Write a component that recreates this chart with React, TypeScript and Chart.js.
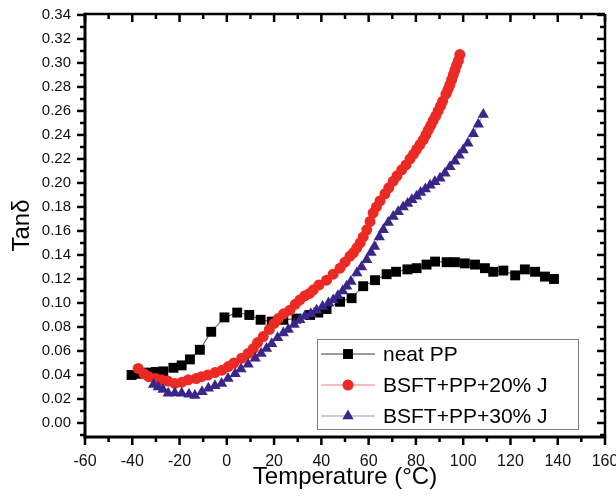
import React, { useEffect, useRef } from 'react';
import { Chart, registerables } from 'chart.js';
import { drawPoint } from 'chart.js/helpers';

Chart.register(...registerables);

// ---------- data ----------
const seriesLabels = ['neat PP', 'BSFT+PP+20% J', 'BSFT+PP+30% J'];

const neatX = [-40.3, -36.8, -33.2, -30, -26.9, -22.6, -19.1, -15.6, -11.4, -6.6, -1, 4.4, 9.5, 14.3, 19, 23.9, 29.5, 35.2, 38.7, 42.2, 47.9, 52.8, 57.7, 62.7, 67.6, 71.6, 76.4, 80.3, 84.5, 88.1, 93, 96.5, 100.7, 105, 109.2, 112.7, 117, 122, 126.1, 130.4, 134.6, 138.4];
const neatY = [0.040, 0.041, 0.042, 0.0425, 0.043, 0.046, 0.048, 0.053, 0.061, 0.076, 0.088, 0.092, 0.090, 0.086, 0.0845, 0.086, 0.087, 0.090, 0.092, 0.095, 0.101, 0.104, 0.114, 0.119, 0.124, 0.126, 0.128, 0.129, 0.132, 0.1345, 0.134, 0.134, 0.133, 0.132, 0.129, 0.126, 0.127, 0.123, 0.128, 0.126, 0.122, 0.120];

const j20X = [-37.5, -35, -33, -30, -27.6, -25, -22, -19, -16.3, -13, -10.7, -8, -5, -2, 0.6, 3, 6.3, 9, 11.2, 13, 15.4, 18, 20, 21.8, 24, 26.7, 29, 30.9, 33, 35, 36.6, 39, 42.2, 45, 47.9, 50, 52.1, 53.6, 55, 56.4, 57.7, 59.2, 60.6, 61.9, 63.3, 64.8, 66.9, 68.5, 70.4, 72, 74, 75.8, 77.5, 79, 80.3, 81.7, 83.1, 84.2, 85.2, 86.3, 87.3, 88.4, 89.4, 90.4, 91.3, 92.7, 93.6, 94.4, 95.1, 95.8, 96.5, 97.2, 98, 98.6];
const j20Y = [0.0455, 0.041, 0.0386, 0.037, 0.036, 0.035, 0.033, 0.034, 0.036, 0.037, 0.0386, 0.040, 0.042, 0.044, 0.047, 0.050, 0.054, 0.058, 0.062, 0.067, 0.072, 0.078, 0.083, 0.087, 0.091, 0.094, 0.099, 0.1025, 0.106, 0.108, 0.111, 0.115, 0.119, 0.124, 0.129, 0.134, 0.139, 0.142, 0.146, 0.150, 0.155, 0.161, 0.168, 0.175, 0.180, 0.185, 0.191, 0.196, 0.2015, 0.206, 0.211, 0.215, 0.220, 0.224, 0.228, 0.232, 0.236, 0.240, 0.244, 0.248, 0.252, 0.256, 0.260, 0.264, 0.268, 0.274, 0.278, 0.282, 0.286, 0.290, 0.294, 0.298, 0.302, 0.307];

const j30X = [-31, -29, -27, -24.8, -22, -19.1, -16, -13.5, -10.5, -7.8, -5, -2.2, 0.5, 3.5, 6, 9, 12, 14.5, 16.8, 19, 21.5, 23.9, 26, 28.5, 30.9, 33, 35.5, 38, 40.5, 43, 45, 47, 49, 50.7, 52.5, 55, 57, 59.2, 61, 62.5, 64.5, 66.2, 68.3, 70.4, 72.5, 74.6, 76.5, 78.3, 80.3, 82, 84, 86, 88, 90.2, 92.3, 94.4, 96.5, 98.3, 100, 102, 104.3, 106.4, 108.5];
const j30Y = [0.032, 0.030, 0.028, 0.0247, 0.025, 0.0247, 0.024, 0.023, 0.026, 0.029, 0.031, 0.033, 0.037, 0.041, 0.045, 0.049, 0.054, 0.058, 0.062, 0.066, 0.071, 0.075, 0.078, 0.082, 0.086, 0.089, 0.091, 0.094, 0.097, 0.100, 0.1025, 0.106, 0.110, 0.114, 0.118, 0.125, 0.130, 0.136, 0.142, 0.147, 0.155, 0.161, 0.167, 0.172, 0.176, 0.180, 0.183, 0.186, 0.189, 0.192, 0.195, 0.198, 0.201, 0.204, 0.208, 0.2136, 0.218, 0.223, 0.2275, 0.233, 0.241, 0.249, 0.257];

const xTicks = [-60, -40, -20, 0, 20, 40, 60, 80, 100, 120, 140, 160];
const yTicks = [0, 0.02, 0.04, 0.06, 0.08, 0.10, 0.12, 0.14, 0.16, 0.18, 0.20, 0.22, 0.24, 0.26, 0.28, 0.30, 0.32, 0.34];

const xTitle = 'Temperature (°C)';
const yTitle = 'Tanδ';

// ---------- styling ----------
const FONT = '"Liberation Sans", Arial, Helvetica, sans-serif';
const styles = [
  { line: '#3a3a3a', fill: '#000000', pointStyle: 'rect', radius: 7 },
  { line: '#f07a7a', fill: '#ec2a24', pointStyle: 'circle', radius: 5.5 },
  { line: '#9a90cc', fill: '#3a2688', pointStyle: 'triangle', radius: 6.5 },
];

const toPts = (xs: number[], ys: number[]) => xs.map((x, i) => ({ x, y: ys[i] }));

const framePlugin = {
  id: 'frameTicksLegend',
  afterDraw(chart: any) {
    const { ctx, chartArea: a, scales } = chart;
    const xs = scales.x;
    const ys = scales.y;
    ctx.save();
    ctx.strokeStyle = '#000';
    ctx.lineCap = 'butt';

    const line = (x1: number, y1: number, x2: number, y2: number, w: number) => {
      ctx.lineWidth = w;
      ctx.beginPath();
      ctx.moveTo(x1, y1);
      ctx.lineTo(x2, y2);
      ctx.stroke();
    };

    // x ticks
    const xStep = xTicks[1] - xTicks[0];
    xTicks.forEach((v) => {
      const p = xs.getPixelForValue(v);
      line(p, a.bottom, p, a.bottom + 8, 2.5);
      line(p, a.top, p, a.top + 8, 2.5);
    });
    xTicks.slice(0, -1).forEach((v) => {
      const p = xs.getPixelForValue(v + xStep / 2);
      line(p, a.bottom, p, a.bottom + 5, 2.5);
      line(p, a.top, p, a.top + 5, 2.5);
    });
    // y ticks
    const yStep = yTicks[1] - yTicks[0];
    yTicks.forEach((v) => {
      const p = ys.getPixelForValue(v);
      line(a.left - 8, p, a.left, p, 2.5);
      line(a.right - 8, p, a.right, p, 2.5);
    });
    [yTicks[0] - yStep / 2, ...yTicks.slice(0, -1).map((v) => v + yStep / 2)].forEach((v) => {
      if (v < ys.min) return;
      const p = ys.getPixelForValue(v);
      line(a.left - 5, p, a.left, p, 2.5);
      line(a.right - 5, p, a.right, p, 2.5);
    });

    // frame
    line(a.left, a.top, a.right, a.top, 2.5);
    line(a.right, a.top, a.right, a.bottom, 2.5);
    line(a.left, a.bottom + 1.5, a.left, a.top - 1.2, 3);
    line(a.left - 1.5, a.bottom, a.right + 1.2, a.bottom, 3);

    // legend
    const bx = a.right - 288;
    const by = a.bottom - 98;
    const bw = 261;
    const bh = 90;
    ctx.fillStyle = '#ffffff';
    ctx.fillRect(bx, by, bw, bh);
    ctx.strokeStyle = '#808080';
    ctx.lineWidth = 1;
    ctx.strokeRect(bx + 0.5, by + 0.5, bw, bh);
    ctx.font = `21px ${FONT}`;
    ctx.textBaseline = 'middle';
    ctx.textAlign = 'left';
    chart.data.datasets.forEach((ds: any, i: number) => {
      const st = styles[i];
      const ry = by + 15 + i * 31;
      ctx.strokeStyle = st.line;
      ctx.lineWidth = 1;
      ctx.beginPath();
      ctx.moveTo(bx + 4, ry);
      ctx.lineTo(bx + 58, ry);
      ctx.stroke();
      ctx.fillStyle = st.fill;
      ctx.strokeStyle = st.fill;
      drawPoint(ctx, { pointStyle: st.pointStyle, radius: st.radius, rotation: 0, borderWidth: 0 }, bx + 31, ry);
      ctx.fillStyle = '#000';
      ctx.fillText(ds.label, bx + 66, ry + 1);
    });
    ctx.restore();
  },
};

export default function App() {
  const ref = useRef<HTMLCanvasElement | null>(null);
  useEffect(() => {
    if (!ref.current) return;
    const series = [toPts(neatX, neatY), toPts(j20X, j20Y), toPts(j30X, j30Y)];
    const chart = new Chart(ref.current, {
      type: 'line',
      data: {
        datasets: series.map((d, i) => ({
          label: seriesLabels[i],
          data: d,
          order: 2 - i,
          borderColor: styles[i].line,
          borderWidth: 1,
          pointStyle: styles[i].pointStyle as any,
          pointRadius: styles[i].radius,
          pointBackgroundColor: styles[i].fill,
          pointBorderColor: styles[i].fill,
          pointBorderWidth: 0,
          tension: 0,
          fill: false,
        })),
      },
      options: {
        animation: false,
        responsive: false,
        devicePixelRatio: 1,
        layout: { padding: { left: 0, right: 11, top: 14, bottom: 0 } },
        plugins: { legend: { display: false }, tooltip: { enabled: false } },
        scales: {
          x: {
            type: 'linear',
            min: -60,
            max: 160,
            afterFit: (s: any) => { s.height = 60; s.paddingLeft = 0; s.paddingRight = 0; },
            afterBuildTicks: (s: any) => { s.ticks = xTicks.map((v) => ({ value: v })); },
            grid: { display: true, drawOnChartArea: false, drawTicks: false },
            border: { display: false },
            ticks: { color: '#111', font: { family: FONT, size: 16 }, padding: 15, maxRotation: 0, autoSkip: false, callback: (v: any) => String(v) },
            title: { display: true, text: xTitle, color: '#000', font: { family: FONT, size: 24 }, padding: { top: 0, bottom: 5 } },
          },
          y: {
            type: 'linear',
            min: -0.01167,
            max: 0.3408,
            afterFit: (s: any) => { s.width = 85; s.paddingTop = 0; s.paddingBottom = 0; },
            afterBuildTicks: (s: any) => { s.ticks = yTicks.map((v) => ({ value: v })); },
            grid: { display: true, drawOnChartArea: false, drawTicks: false },
            border: { display: false },
            ticks: { color: '#111', font: { family: FONT, size: 15 }, padding: 14, autoSkip: false, callback: (v: any) => Number(v).toFixed(2) },
            title: { display: true, text: yTitle, color: '#000', font: { family: FONT, size: 24 }, padding: { top: 8, bottom: 0 } },
          },
        },
      },
      plugins: [framePlugin],
    });
    return () => chart.destroy();
  }, []);
  return (
    <div style={{ position: 'absolute', left: 0, top: 0, width: 616, height: 497, background: '#fff' }}>
      <canvas ref={ref} width={616} height={497} />
    </div>
  );
}
